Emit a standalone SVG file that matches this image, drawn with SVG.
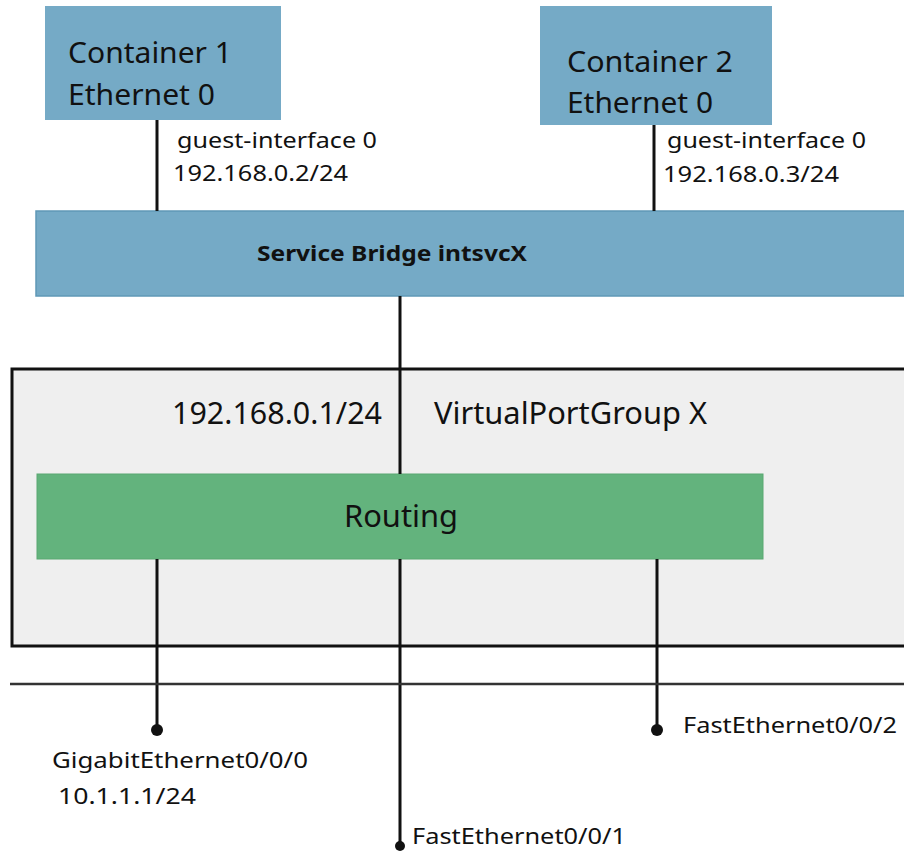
<svg xmlns="http://www.w3.org/2000/svg" width="904" height="852" viewBox="0 0 904 852">
<style>
.t{font-family:"Noto Sans","Open Sans","DejaVu Sans",sans-serif;fill:#111}
.big{font-size:29px}
.vp{font-size:30px}
.sm{font-size:22px}
.b{font-weight:bold;font-size:21px}
.blue{fill:#75aac6}
.ln{stroke:#111;stroke-width:3;fill:none}
</style>
<rect width="904" height="852" fill="#fff"/>
<g id="container1">
<rect class="blue" x="45" y="6" width="236" height="114"/>
<text class="t big" x="68" y="63" textLength="164" lengthAdjust="spacingAndGlyphs">Container 1</text>
<text class="t big" x="68" y="105" textLength="147" lengthAdjust="spacingAndGlyphs">Ethernet 0</text>
</g>
<g id="container2">
<rect class="blue" x="540" y="6" width="232" height="119"/>
<text class="t big" x="567" y="72" textLength="166" lengthAdjust="spacingAndGlyphs">Container 2</text>
<text class="t big" x="567" y="113" textLength="146" lengthAdjust="spacingAndGlyphs">Ethernet 0</text>
</g>
<g id="vpg">
<rect x="12" y="369" width="900" height="277" fill="#efefef" stroke="#111" stroke-width="3"/>
<text class="t vp" x="172" y="424" textLength="210" lengthAdjust="spacingAndGlyphs">192.168.0.1/24</text>
<text class="t vp" x="434" y="424" textLength="273" lengthAdjust="spacingAndGlyphs">VirtualPortGroup X</text>
</g>
<g id="bridge">
<rect class="blue" x="36" y="211" width="870" height="85" stroke="#5f98b6" stroke-width="1.5"/>
<text class="t b" x="257" y="261" textLength="270" lengthAdjust="spacingAndGlyphs">Service Bridge intsvcX</text>
</g>
<g id="routing">
<rect x="37" y="474" width="726" height="85" fill="#63b37d" stroke="#5aa872" stroke-width="1"/>
<text class="t vp" x="344" y="527" textLength="114" lengthAdjust="spacingAndGlyphs">Routing</text>
</g>
<g id="connectors">
<line class="ln" x1="157" y1="120" x2="157" y2="211"/>
<line class="ln" x1="654" y1="125" x2="654" y2="211"/>
<line class="ln" x1="400" y1="296" x2="400" y2="474"/>
<line class="ln" x1="157" y1="559" x2="157" y2="730"/>
<line class="ln" x1="400" y1="559" x2="400" y2="846"/>
<line class="ln" x1="657" y1="559" x2="657" y2="730"/>
<line x1="10" y1="684" x2="904" y2="684" stroke="#333" stroke-width="2.5"/>
<circle cx="157" cy="730" r="6" fill="#111"/>
<circle cx="657" cy="730" r="6" fill="#111"/>
<circle cx="400" cy="846" r="5" fill="#111"/>
</g>
<g id="labels">
<text class="t sm" x="177" y="148" textLength="200" lengthAdjust="spacingAndGlyphs">guest-interface 0</text>
<text class="t sm" x="173" y="181" textLength="175" lengthAdjust="spacingAndGlyphs">192.168.0.2/24</text>
<text class="t sm" x="667" y="148" textLength="199" lengthAdjust="spacingAndGlyphs">guest-interface 0</text>
<text class="t sm" x="663" y="182" textLength="176" lengthAdjust="spacingAndGlyphs">192.168.0.3/24</text>
<text class="t sm" x="52" y="768" textLength="256" lengthAdjust="spacingAndGlyphs">GigabitEthernet0/0/0</text>
<text class="t sm" x="58" y="804" textLength="138" lengthAdjust="spacingAndGlyphs">10.1.1.1/24</text>
<text class="t sm" x="683" y="733" textLength="214" lengthAdjust="spacingAndGlyphs">FastEthernet0/0/2</text>
<text class="t sm" x="412" y="844" textLength="214" lengthAdjust="spacingAndGlyphs">FastEthernet0/0/1</text>
</g>
</svg>
